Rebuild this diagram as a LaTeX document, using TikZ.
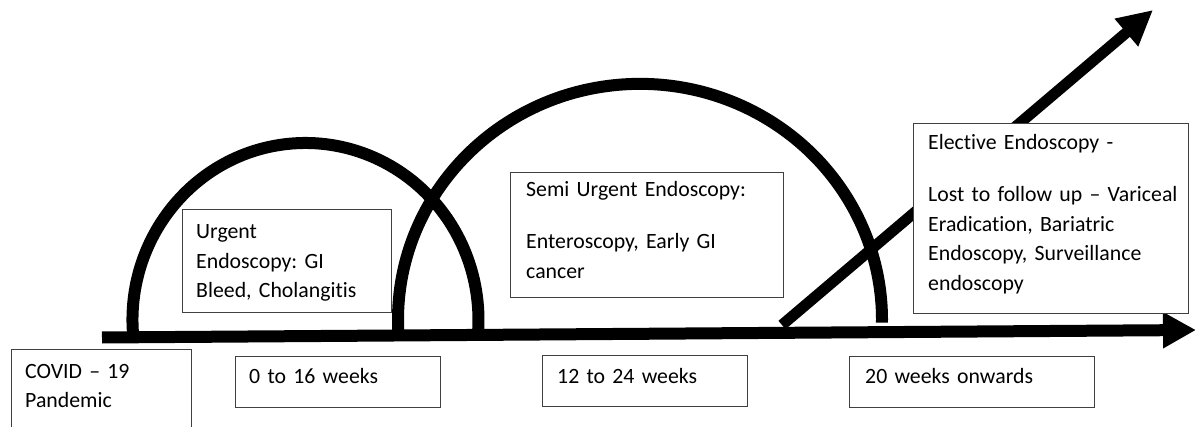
\documentclass[tikz,border=0pt]{standalone}
\usepackage{fontspec}
\setmainfont{Carlito}[Ligatures={NoCommon}]
\usetikzlibrary{arrows.meta,calc}
\frenchspacing
\begin{document}
\begin{tikzpicture}[x=1pt,y=1pt,
  heavy/.style={line width=12pt, draw=black},
  arcline/.style={line width=12pt, draw=black},
  boxstyle/.style={draw=black!75, line width=1.1pt, fill=white, rectangle, inner sep=0pt, anchor=north west},
  txt/.style={anchor=base west, inner sep=0pt, text width=300pt, align=left, font=\fontsize{21.8}{29.5}\selectfont\frenchspacing}]
\useasboundingbox (0,0) rectangle (1196,426);
% named end points
\coordinate (axisstart) at (102,88.5);
\coordinate (axisend) at (1196,96);
\coordinate (diagstart) at (782,101);
\coordinate (diagend) at (1153,416);
\coordinate (smallfoot) at (133.6,86);
\coordinate (bigfoot) at (398.9,86);
% arches
\draw[arcline] (smallfoot) arc[start angle=186.5, end angle=-6.5, x radius=173, y radius=177];
\draw[arcline] (bigfoot) arc[start angle=184.9, end angle=-0.7, x radius=242, y radius=236];
% arrows
\draw[heavy, -{Triangle[length=33pt,width=34pt]}] (axisstart) -- (axisend);
\draw[heavy, line width=11pt, -{Triangle[length=35pt,width=34pt]}] (diagstart) -- (diagend);
% boxes
\node[boxstyle, minimum width=180, minimum height=100] (covid) at (11,77) {};
\node[txt] (covidT) at (25,48) {COVID – 19\\Pandemic};
\node[boxstyle, minimum width=205, minimum height=51] (w016) at (235,70) {};
\node[txt] (w016T) at (249,43) {0 to 16 weeks};
\node[boxstyle, minimum width=205, minimum height=51] (w1224) at (542,71) {};
\node[txt] (w1224T) at (557,43) {12 to 24 weeks};
\node[boxstyle, minimum width=245, minimum height=51] (w20) at (849,70) {};
\node[txt] (w20T) at (865,43) {20 weeks onwards};
\node[boxstyle, minimum width=209, minimum height=103] (urgent) at (182,217) {};
\node[txt] (urgentT) at (196,187) {Urgent\\Endoscopy: GI\\Bleed, Cholangitis};
\node[boxstyle, minimum width=273, minimum height=125] (semi) at (510,254) {};
\node[txt] (semiT) at (526,229) {Semi Urgent Endoscopy:\\[22.5pt]Enteroscopy, Early GI\\cancer};
\node[boxstyle, minimum width=275, minimum height=190] (elective) at (913,303) {};
\node[txt] (electiveT) at (928,276) {Elective Endoscopy -\\[22.5pt]Lost to follow up – Variceal\\Eradication, Bariatric\\Endoscopy, Surveillance\\endoscopy};
\end{tikzpicture}
\end{document}
